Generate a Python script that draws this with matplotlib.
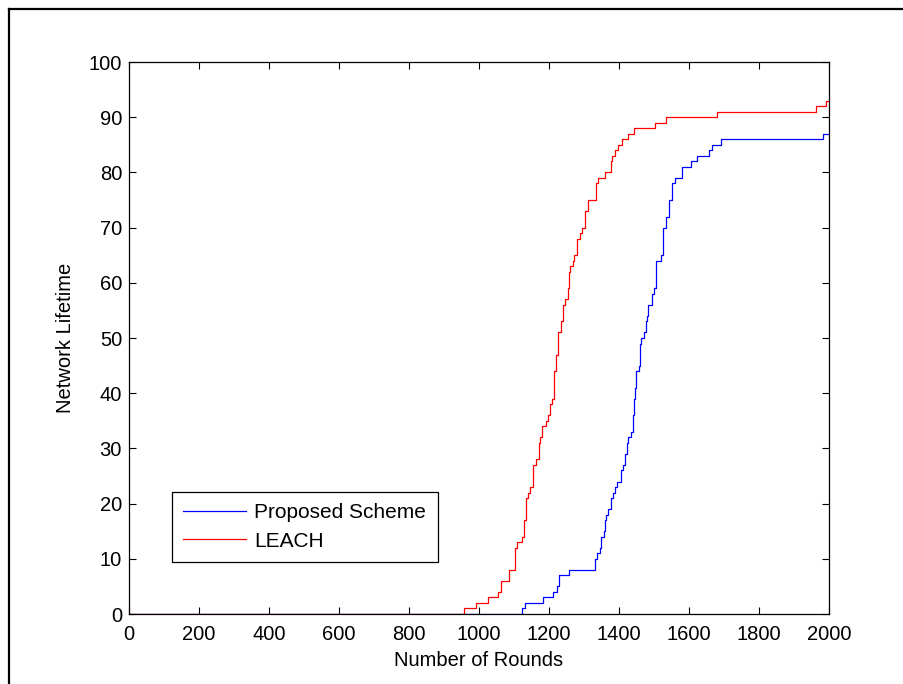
import numpy as np
import matplotlib.pyplot as plt
from matplotlib.lines import Line2D

plt.rcParams['font.family'] = ['Liberation Sans', 'DejaVu Sans']

# step data: round at which the value changes, value after it
leach_rounds = [0, 957, 990, 1027, 1055, 1064, 1087, 1104, 1109, 1124, 1128, 1134,
                1141, 1145, 1155, 1162, 1170, 1175, 1180, 1191, 1196, 1203, 1209,
                1215, 1220, 1227, 1233, 1239, 1247, 1254, 1257, 1260, 1268, 1272,
                1279, 1290, 1295, 1303, 1312, 1333, 1339, 1359, 1377, 1381, 1389,
                1398, 1410, 1425, 1443, 1503, 1534, 1679, 1963, 1991, 2000]
leach_values = [0, 1, 2, 3, 4, 6, 8, 12, 13, 14, 17, 21,
                22, 23, 27, 28, 31, 32, 34, 35, 36, 38, 39,
                44, 47, 51, 53, 56, 57, 59, 62, 63, 64, 65,
                68, 69, 70, 73, 75, 78, 79, 80, 82, 83, 84,
                85, 86, 87, 88, 89, 90, 91, 92, 93, 93]

proposed_rounds = [0, 1123, 1130, 1184, 1212, 1224, 1229, 1257, 1331, 1336, 1346,
                   1350, 1358, 1360, 1363, 1370, 1377, 1382, 1390, 1394, 1405, 1411,
                   1418, 1422, 1427, 1433, 1441, 1444, 1447, 1450, 1457, 1460, 1463,
                   1471, 1476, 1481, 1484, 1493, 1500, 1506, 1520, 1525, 1533, 1542,
                   1552, 1560, 1579, 1607, 1622, 1658, 1667, 1690, 1984, 2000]
proposed_values = [0, 1, 2, 3, 4, 5, 7, 8, 10, 11, 12,
                   14, 15, 17, 18, 19, 21, 22, 23, 24, 26, 27,
                   29, 31, 32, 33, 36, 39, 41, 44, 45, 49, 50,
                   51, 53, 54, 56, 58, 59, 64, 65, 70, 72, 75,
                   78, 79, 81, 82, 83, 84, 85, 86, 87, 87]

x_ticks = np.arange(0, 2001, 200)
y_ticks = np.arange(0, 101, 10)

fig = plt.figure(figsize=(9.04, 6.84), dpi=100)
ax = fig.add_axes([129 / 904, 1 - 614 / 684, 700 / 904, 552 / 684])

ax.step(proposed_rounds, proposed_values, where='post', color='#0000ff',
        linewidth=0.9, label='Proposed Scheme')
ax.step(leach_rounds, leach_values, where='post', color='#ff0000',
        linewidth=0.9, label='LEACH')

ax.set_xlim(0, 2000)
ax.set_ylim(0, 100)
ax.set_xticks(x_ticks)
ax.set_yticks(y_ticks)
ax.tick_params(direction='in', length=5, width=0.8, labelsize=14.5,
               top=True, right=True)
ax.tick_params(axis='x', pad=8)
ax.tick_params(axis='y', pad=5)
for s in ax.spines.values():
    s.set_linewidth(0.9)

ax.set_xlabel('Number of Rounds', fontsize=14.5, labelpad=5)
ax.set_ylabel('Network Lifetime', fontsize=14.5, labelpad=10)

leg = ax.legend(loc='lower left', bbox_to_anchor=(43 / 700, 52 / 552),
                fontsize=15, fancybox=False, framealpha=1, edgecolor='black',
                handlelength=3.0, handletextpad=0.4, borderpad=0.55,
                labelspacing=0.45, borderaxespad=0)
leg.get_frame().set_linewidth(0.9)

# outer frame of the screenshot (left and top edges visible)
fig.add_artist(Line2D([9 / 904, 9 / 904], [0, 1 - 9 / 684], transform=fig.transFigure,
                      color='black', linewidth=1.6))
fig.add_artist(Line2D([9 / 904, 1], [1 - 9 / 684, 1 - 9 / 684], transform=fig.transFigure,
                      color='black', linewidth=1.6))

fig.savefig('out.png', dpi=100)
